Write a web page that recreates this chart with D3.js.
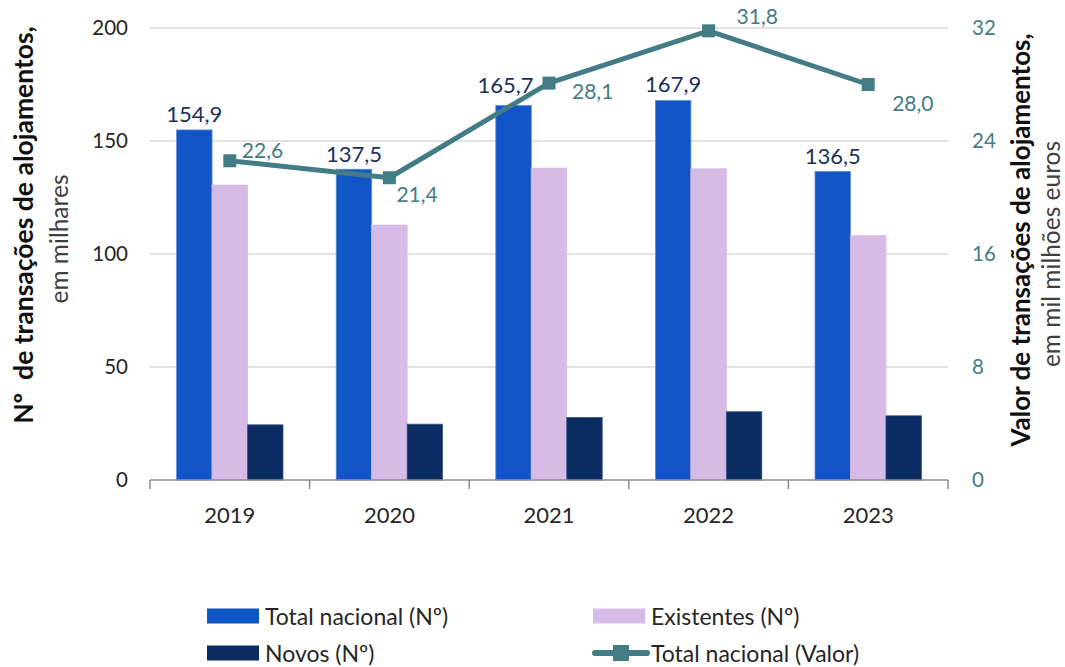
<!DOCTYPE html>
<html>
<head>
<meta charset="utf-8">
<script src="https://cdn.jsdelivr.net/npm/d3@7"></script>
<style>
  html, body { margin: 0; padding: 0; background: #fff; }
  svg text { font-family: Lato, "Open Sans", sans-serif; white-space: pre; }
</style>
</head>
<body>
<svg id="chart" width="1065" height="667"></svg>
<script>
// Transações de alojamentos, 2019-2023
const years = ["2019", "2020", "2021", "2022", "2023"];
const totalNacional = [154.9, 137.5, 165.7, 167.9, 136.5];   // milhares
const existentes = [130.5, 112.8, 138.0, 137.7, 108.1];      // milhares
const novos = [24.4, 24.7, 27.7, 30.2, 28.4];                // milhares
const valorTotal = [22.6, 21.4, 28.1, 31.8, 28.0];           // mil milhões euros
const leftTicks = [0, 50, 100, 150, 200];
const rightTicks = [0, 8, 16, 24, 32];

const fmt = v => d3.format(".1f")(v).replace(".", ",");

const colors = {
  total: "#1155C6",
  existentes: "#D5BBE6",
  novos: "#0B2B63",
  line: "#437C84",
  barLabel: "#1B2F5E",
  tick: "#262626",
  grid: "#D9D9D9",
  axis: "#8C8C8C"
};

const svg = d3.select("#chart");
const margin = { left: 150, right: 117, top: 28, bottom: 187 };
const W = 1065, H = 667;
const x0 = margin.left, x1 = W - margin.right;
const yTop = margin.top, yBot = H - margin.bottom;

const x = d3.scaleBand().domain(years).range([x0, x1]).paddingInner(0).paddingOuter(0);
const seriesKeys = ["total", "existentes", "novos"];
const xs = d3.scaleBand().domain(seriesKeys).range([0, x.bandwidth()]).paddingInner(0).paddingOuter(0.75);
const yL = d3.scaleLinear().domain([0, 200]).range([yBot, yTop]);
const yR = d3.scaleLinear().domain([0, 32]).range([yBot, yTop]);

// gridlines
svg.append("g")
  .selectAll("line")
  .data(leftTicks.filter(t => t > 0))
  .join("line")
  .attr("x1", x0).attr("x2", x1)
  .attr("y1", d => yL(d)).attr("y2", d => yL(d))
  .attr("stroke", colors.grid).attr("stroke-width", 1.3);

// bars
const rows = years.map((yr, i) => ({
  year: yr,
  values: { total: totalNacional[i], existentes: existentes[i], novos: novos[i] }
}));

const strokeFor = { total: "#5E8CDB", existentes: "#D5BBE6", novos: "#3A5585" };
const groups = svg.append("g").selectAll("g")
  .data(rows).join("g")
  .attr("transform", d => `translate(${x(d.year)},0)`);

groups.selectAll("rect")
  .data(d => seriesKeys.map(k => ({ key: k, value: d.values[k] })))
  .join("rect")
  .attr("x", d => xs(d.key))
  .attr("width", xs.bandwidth())
  .attr("y", d => yL(d.value))
  .attr("height", d => yL(0) - yL(d.value))
  .attr("fill", d => colors[d.key])
  .attr("stroke", d => strokeFor[d.key])
  .attr("stroke-width", 0.8);

// x axis
const xAxis = svg.append("g").attr("transform", `translate(0,${yBot})`);
xAxis.append("line").attr("x1", x0).attr("x2", x1).attr("y1", 0).attr("y2", 0)
  .attr("stroke", colors.axis).attr("stroke-width", 1.5);
xAxis.selectAll("line.tk")
  .data(years.map(y => x(y)).concat([x1]))
  .join("line").attr("class", "tk")
  .attr("x1", d => d).attr("x2", d => d).attr("y1", 0).attr("y2", 9)
  .attr("stroke", colors.axis).attr("stroke-width", 1.5);
xAxis.selectAll("text")
  .data(years).join("text")
  .attr("x", d => x(d) + x.bandwidth() / 2)
  .attr("y", 43)
  .attr("text-anchor", "middle")
  .attr("font-size", 22)
  .attr("fill", colors.tick)
  .text(d => d);

// left axis ticks
const leftAxis = d3.axisLeft(yL).tickValues(leftTicks).tickSize(0).tickPadding(22);
svg.append("g").attr("transform", `translate(${x0},0)`).call(leftAxis)
  .call(g => g.select(".domain").remove())
  .call(g => g.selectAll("text").attr("font-size", 20.5).attr("fill", colors.tick)
    .attr("font-family", "Lato, sans-serif"));

// right axis ticks
const rightAxis = d3.axisRight(yR).tickValues(rightTicks).tickSize(0).tickPadding(24);
svg.append("g").attr("transform", `translate(${x1},0)`).call(rightAxis)
  .call(g => g.select(".domain").remove())
  .call(g => g.selectAll("text").attr("font-size", 20.5).attr("fill", colors.line)
    .attr("font-family", "Lato, sans-serif"));

// axis titles
svg.append("text")
  .attr("transform", "translate(23,225) rotate(-90)")
  .attr("text-anchor", "middle")
  .attr("dominant-baseline", "central")
  .attr("font-weight", "bold").attr("font-size", 26.5).attr("fill", "#111")
  .text("Nº  de transações de alojamentos,");
svg.append("text")
  .attr("transform", "translate(58,239) rotate(-90)")
  .attr("text-anchor", "middle")
  .attr("dominant-baseline", "central")
  .attr("font-size", 24.5).attr("fill", "#404040")
  .text("em milhares");

svg.append("text")
  .attr("transform", "translate(1020,240) rotate(-90)")
  .attr("text-anchor", "middle")
  .attr("dominant-baseline", "central")
  .attr("font-weight", "bold").attr("font-size", 26).attr("fill", "#111")
  .text("Valor de transações de alojamentos,");
svg.append("text")
  .attr("transform", "translate(1050,254) rotate(-90)")
  .attr("text-anchor", "middle")
  .attr("dominant-baseline", "central")
  .attr("font-size", 24.5).attr("fill", "#404040")
  .text("em mil milhões euros");

// value line (right axis)
const cx = yr => x(yr) + x.bandwidth() / 2;
const line = d3.line().x((d, i) => cx(years[i])).y(d => yR(d));
svg.append("path")
  .datum(valorTotal)
  .attr("d", line)
  .attr("fill", "none")
  .attr("stroke", colors.line)
  .attr("stroke-width", 5)
  .attr("stroke-linejoin", "round");
const mk = 13;
svg.append("g").selectAll("rect")
  .data(valorTotal).join("rect")
  .attr("x", (d, i) => cx(years[i]) - mk / 2)
  .attr("y", d => yR(d) - mk / 2)
  .attr("width", mk).attr("height", mk)
  .attr("fill", colors.line);

// labels for the value line: offsets from each marker
const lineLabelOffset = [[12, -11], [7, 16], [23, 7], [28, -15], [24, 18]];
svg.append("g").selectAll("text")
  .data(valorTotal).join("text")
  .attr("x", (d, i) => cx(years[i]) + lineLabelOffset[i][0])
  .attr("y", (d, i) => yR(d) + lineLabelOffset[i][1])
  .attr("dominant-baseline", "central")
  .attr("font-size", 21)
  .attr("fill", colors.line)
  .text(d => fmt(d));

// labels above the total bars
const totalLabelOffset = [[0, 0], [0, 0], [-8, -5], [0, -1], [0, 0]];
svg.append("g").selectAll("text")
  .data(totalNacional).join("text")
  .attr("x", (d, i) => x(years[i]) + xs("total") + xs.bandwidth() / 2 + totalLabelOffset[i][0])
  .attr("y", (d, i) => yL(d) - 16 + totalLabelOffset[i][1])
  .attr("text-anchor", "middle")
  .attr("dominant-baseline", "central")
  .attr("font-size", 22)
  .attr("fill", colors.barLabel)
  .text(d => fmt(d));

// legend
const legendItems = [
  { label: "Total nacional (Nº)", type: "rect", color: colors.total, col: 0, row: 0 },
  { label: "Existentes (Nº)", type: "rect", color: colors.existentes, col: 1, row: 0 },
  { label: "Novos (Nº)", type: "rect", color: colors.novos, col: 0, row: 1 },
  { label: "Total nacional (Valor)", type: "line", color: colors.line, col: 1, row: 1 }
];
const legendCols = [207, 593];
const legendRows = [616, 653];
const lg = svg.append("g").selectAll("g")
  .data(legendItems).join("g")
  .attr("transform", d => `translate(${legendCols[d.col]},${legendRows[d.row]})`);
lg.filter(d => d.type === "rect").append("rect")
  .attr("x", 0).attr("y", -7.5).attr("width", 52).attr("height", 15)
  .attr("fill", d => d.color);
lg.filter(d => d.type === "line").append("line")
  .attr("x1", 2).attr("x2", 54).attr("y1", 0).attr("y2", 0)
  .attr("stroke", d => d.color).attr("stroke-width", 6).attr("stroke-linecap", "round");
lg.filter(d => d.type === "line").append("rect")
  .attr("x", 20).attr("y", -8).attr("width", 16).attr("height", 16)
  .attr("fill", d => d.color);
lg.append("text")
  .attr("x", 58).attr("y", 0)
  .attr("dominant-baseline", "central")
  .attr("font-size", 23)
  .attr("fill", colors.tick)
  .text(d => d.label);
</script>
</body>
</html>
